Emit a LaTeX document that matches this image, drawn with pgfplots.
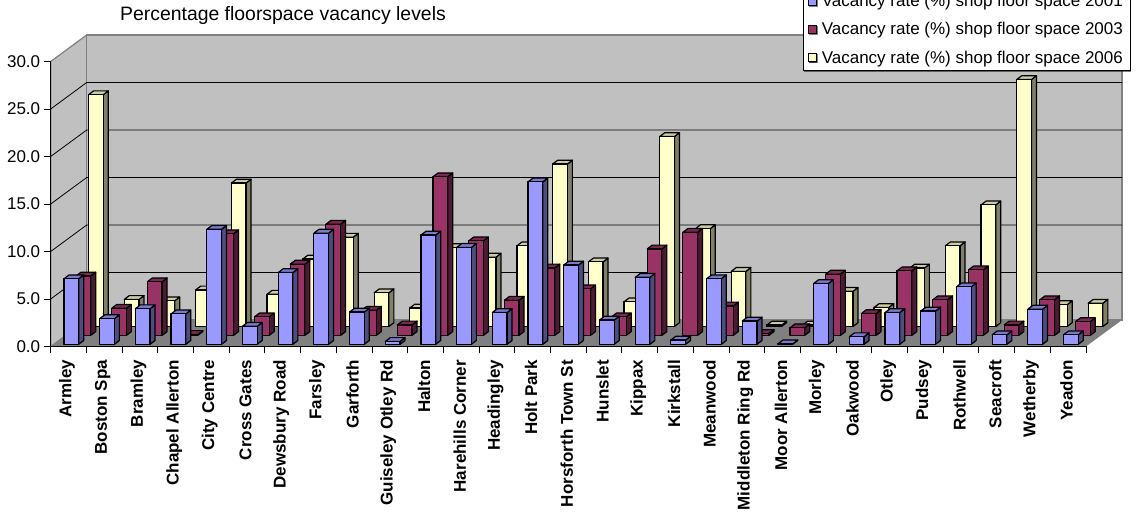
\documentclass[border=0pt]{standalone}
\usepackage{fontspec}
\setmainfont{Liberation Sans}
\usepackage{pgfplots}
\usepackage{pgfplotstable}
\pgfplotsset{compat=1.18}
\usetikzlibrary{shadows}

\definecolor{wall}{HTML}{C0C0C0}
\definecolor{floorc}{HTML}{808080}
\definecolor{blueF}{HTML}{9999FF}
\definecolor{blueT}{HTML}{7A7ACC}
\definecolor{blueS}{HTML}{4D4D80}
\definecolor{plumF}{HTML}{993366}
\definecolor{plumT}{HTML}{7A2952}
\definecolor{plumS}{HTML}{4D1A33}
\definecolor{creamF}{HTML}{FFFFCC}
\definecolor{creamT}{HTML}{CCCCA3}
\definecolor{creamS}{HTML}{808066}

% one column per year, rows in category order
\pgfplotstableread{
i  v2001 v2003 v2006
0  6.9   6.25  24.4
1  2.7   2.85  2.85
2  3.75  5.65  2.7
3  3.2   0.1   3.85
4  12.1  10.7  15.1
5  1.9   1.95  3.4
6  7.55  7.5   7.1
7  11.7  11.7  9.4
8  3.4   2.65  3.55
9  0.3   1.1   1.95
10 11.5  16.7  8.3
11 10.2  9.95  7.3
12 3.35  3.7   8.5
13 17.1  7.1   17.1
14 8.35  4.9   6.8
15 2.55  1.95  2.6
16 7.05  9.1   20.0
17 0.45  10.85 10.3
18 6.9   3.1   5.8
19 2.45  0.2   0.15
20 0.05  0.8   0.15
21 6.4   6.45  3.7
22 0.8   2.3   2.0
23 3.35  6.8   6.15
24 3.5   3.75  8.5
25 6.05  6.9   12.8
26 1.0   1.1   26.0
27 3.7   3.75  2.3
28 1.0   1.45  2.45
}\vacancy

% 3d column as a plot mark: origin is the top of the column on the axis
% #2,#3 = offset into the depth, 9.5pt per percentage point
\newcommand\declarecolumn[6]{%
  \pgfdeclareplotmark{#1}{%
    \pgfmathsetmacro\colh{\barval*9.5}%
    \pgfmathsetmacro\colL{#2-7.35}%
    \pgfmathsetmacro\colR{#2+7.35}%
    \pgfmathsetmacro\colT{#3}%
    \pgfmathsetmacro\colB{#3-\colh}%
    \pgfsetlinewidth{1.2pt}\pgfsetstrokecolor{black}\pgfsetroundjoin
    \pgfsetfillcolor{#6}%
    \pgfpathmoveto{\pgfpoint{\colR pt}{\colB pt}}%
    \pgfpathlineto{\pgfpoint{\colR pt+5pt}{\colB pt+3.8pt}}%
    \pgfpathlineto{\pgfpoint{\colR pt+5pt}{\colT pt+3.8pt}}%
    \pgfpathlineto{\pgfpoint{\colR pt}{\colT pt}}%
    \pgfpathclose\pgfusepath{fill,stroke}%
    \pgfsetfillcolor{#5}%
    \pgfpathmoveto{\pgfpoint{\colL pt}{\colT pt}}%
    \pgfpathlineto{\pgfpoint{\colL pt+5pt}{\colT pt+3.8pt}}%
    \pgfpathlineto{\pgfpoint{\colR pt+5pt}{\colT pt+3.8pt}}%
    \pgfpathlineto{\pgfpoint{\colR pt}{\colT pt}}%
    \pgfpathclose\pgfusepath{fill,stroke}%
    \pgfsetfillcolor{#4}%
    \pgfpathrectanglecorners{\pgfpoint{\colL pt}{\colB pt}}{\pgfpoint{\colR pt}{\colT pt}}%
    \pgfusepath{fill,stroke}%
  }%
}
\declarecolumn{col2001}{2.8}{2.2}{blueF}{blueT}{blueS}
\declarecolumn{col2003}{14.8}{11.1}{plumF}{plumT}{plumS}
\declarecolumn{col2006}{27.4}{20}{creamF}{creamT}{creamS}

\pgfplotsset{
  column series/.style={
    scatter, only marks, scatter src=y,
    visualization depends on=rawy\as\barval,
    scatter/@pre marker code/.code={},
    scatter/@post marker code/.code={},
    mark=#1,
  },
  swatch/.style={
    legend image code/.code={\draw[black,fill=#1,line width=0.8pt] (0pt,-4pt) rectangle (8pt,4pt);},
  },
}

\begin{document}
\begin{tikzpicture}
\path[use as bounding box] (-50.7pt,-166.5pt) rectangle (1085.3pt,346.5pt);
\begin{axis}[
    at={(0pt,0pt)}, anchor=south west,
    scale only axis,
    width=1035.3pt,
    height=285pt,
    xmin=-0.5, xmax=28.5,
    ymin=0, ymax=30,
    clip=false,
    axis on top,
    axis x line*=bottom,
    axis y line*=left,
    axis line style={black,line width=1pt,-},
    tick style={black,line width=0.8pt},
    tick align=outside,
    major tick length=7pt,
    font=\fontsize{17}{20}\selectfont,
    ytick={0,5,...,30},
    yticklabel style={/pgf/number format/.cd,fixed,fixed zerofill,precision=1,assume math mode=true},
    xtick={-0.5,0.5,...,28.5},
    xticklabels={},
    extra x ticks={0,1,...,28},
    extra x tick labels={Armley,Boston Spa,Bramley,Chapel Allerton,City Centre,Cross Gates,Dewsbury Road,Farsley,Garforth,Guiseley Otley Rd,Halton,Harehills Corner,Headingley,Holt Park,Horsforth Town St,Hunslet,Kippax,Kirkstall,Meanwood,Middleton Ring Rd,Moor Allerton,Morley,Oakwood,Otley,Pudsey,Rothwell,Seacroft,Wetherby,Yeadon},
    extra x tick style={
      major tick length=0pt,
      tick label style={rotate=90,anchor=east,font=\fontsize{17}{19}\selectfont\bfseries,xshift=-10pt,yshift=1.5pt},
    },
    title={Percentage floorspace vacancy levels},
    title style={at={(0.0669,1.142)},anchor=west,inner sep=0pt,font=\fontsize{19.4}{22}\selectfont},
    legend style={
      at={(1.0428,0.9667)},anchor=south east,
      draw=black,line width=0.8pt,fill=white,
      drop shadow={shadow xshift=1pt,shadow yshift=-1pt,fill=black,opacity=0.5},
      font=\fontsize{17}{20}\selectfont,
      row sep=10.5pt,
      column sep=3pt,
      inner xsep=5pt,inner ysep=4pt,
    },
    legend cell align=left,
    reverse legend,
]
% floor and walls, 36 by 26.5 into the depth
\fill[floorc] (axis cs:-0.5,0) -- (axis cs:28.5,0) -- ++(36pt,26.5pt) -- ++(-1035.3pt,0pt) -- cycle;
\filldraw[fill=wall,draw=floorc,line width=1.2pt] (axis cs:-0.5,0) -- (axis cs:-0.5,30) -- ++(36pt,26.5pt) -- ++(0pt,-285pt) -- cycle;
\filldraw[fill=wall,draw=floorc,line width=1.2pt] (axis cs:-0.5,0) ++(36pt,26.5pt) rectangle ++(1035.3pt,285pt);
\pgfplotsinvokeforeach{5,10,15,20,25}{
  \draw[black,line width=0.8pt] (axis cs:-0.5,#1) -- ++(36pt,26.5pt) -- ++(1035.3pt,0pt);
}
\addplot[column series=col2006,swatch=creamF] table[x=i,y=v2006] {\vacancy};
\addplot[column series=col2003,swatch=plumF] table[x=i,y=v2003] {\vacancy};
\addplot[column series=col2001,swatch=blueF] table[x=i,y=v2001] {\vacancy};
\legend{Vacancy rate (\%) shop floor space 2006,Vacancy rate (\%) shop floor space 2003,Vacancy rate (\%) shop floor space 2001}
\end{axis}
\end{tikzpicture}
\end{document}
